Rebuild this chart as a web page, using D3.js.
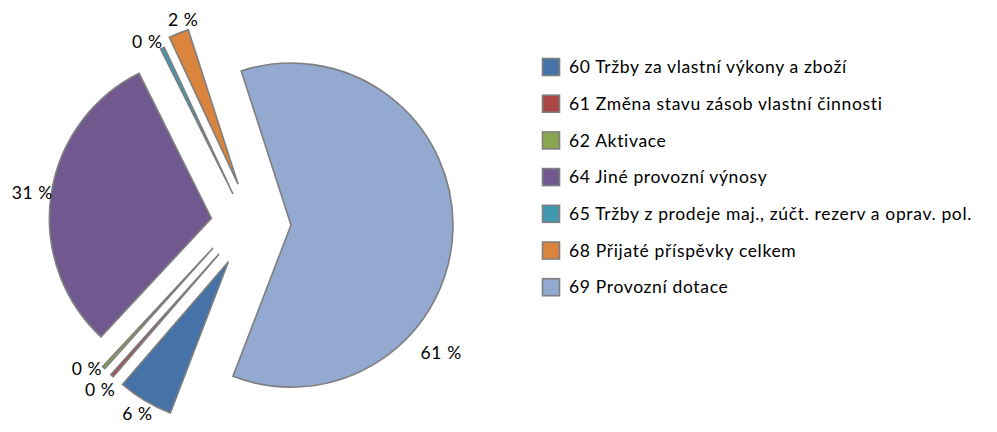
<!DOCTYPE html>
<html>
<head>
<meta charset="utf-8">
<script src="https://cdn.jsdelivr.net/npm/d3@7"></script>
<style>
    body { margin: 0; background: #fff; }
    svg { display: block; font-family: Lato, "Open Sans", sans-serif; }
</style>
</head>
<body>
<svg id="chart"></svg>
<script>
// data (share of total, %)
const codes = ["60", "61", "62", "64", "65", "68", "69"];
const names = [
    "Tržby za vlastní výkony a zboží",
    " Změna stavu zásob vlastní činnosti",
    "Aktivace",
    "Jiné provozní výnosy",
    "Tržby z prodeje maj., zúčt. rezerv a oprav. pol.",
    "Přijaté příspěvky celkem",
    "Provozní dotace"
];
const shares = [5.5, 0.3, 0.3, 30.7, 0.4, 2.0, 60.8];
const colors = ["#4572A7", "#AA4643", "#89A54E", "#71588F", "#4198AF", "#DB843D", "#93A9CF"];

const width = 997, height = 432;
const cx = 251, cy = 224;     // pie centre
const radius = 162;
const explode = 40;           // default pull-out of a slice
const firstAngle = 201;       // degrees, clockwise from 12 o'clock
const labelGap = 19;

// Excel pulled a few points out differently: [direction in degrees or null, distance]
const explodeTweak = {
    "60": [null, 44],
    "61": [226.8, 44],
    "62": [237.7, 45],
    "65": [329, 35],
    "68": [342, 42]
};

// where Excel put some labels, seen from the pie centre: [degrees, distance]
const labelTweak = {
    "61": [222.3, 224],
    "62": [228.5, 219],
    "65": [330.4, 210],
    "68": [341.6, 215],
    "69": [124.2, 230]
};

const svg = d3.select("#chart")
    .attr("width", width)
    .attr("height", height);

const rad = Math.PI / 180;

const pie = d3.pie()
    .sort(null)
    .value(d => d.share)
    .startAngle(firstAngle * rad)
    .endAngle((firstAngle + 360) * rad);

const arc = d3.arc()
    .innerRadius(0)
    .outerRadius(radius);

const rows = codes.map((c, i) => ({code: c, name: names[i], share: shares[i], color: colors[i]}));
const arcs = pie(rows);

function dir(a) {
    return [Math.sin(a), -Math.cos(a)];
}

function midAngle(d) {
    return (d.startAngle + d.endAngle) / 2;
}

function offsetOf(d) {
    const t = explodeTweak[d.data.code];
    const a = t && t[0] !== null ? t[0] * rad : midAngle(d);
    const dist = t ? t[1] : explode;
    const [dx, dy] = dir(a);
    return [dx * dist, dy * dist];
}

function labelPos(d) {
    const t = labelTweak[d.data.code];
    const a = t ? t[0] * rad : midAngle(d);
    const dist = t ? t[1] : explode + radius + labelGap;
    const [dx, dy] = dir(a);
    return [dx * dist, dy * dist];
}

const g = svg.append("g")
    .attr("transform", `translate(${cx}, ${cy})`);

g.selectAll("path.slice")
    .data(arcs)
    .enter()
    .append("path")
    .attr("class", "slice")
    .attr("d", arc)
    .attr("transform", d => `translate(${offsetOf(d)})`)
    .style("fill", d => d.data.color)
    .style("stroke", "#7F7F7F")
    .style("stroke-width", 1.6)
    .style("stroke-linejoin", "miter");

// percent labels
g.selectAll("text.pct")
    .data(arcs)
    .enter()
    .append("text")
    .attr("class", "pct")
    .attr("x", d => labelPos(d)[0])
    .attr("y", d => labelPos(d)[1])
    .attr("text-anchor", "middle")
    .attr("dy", "0.35em")
    .style("font-size", "17.5px")
    .style("letter-spacing", "0.6px")
    .style("fill", "#000")
    .text(d => `${Math.round(d.data.share)} %`);

// legend
const legendX = 542, legendY = 67, rowStep = 36.7, box = 17;

const legend = svg.append("g")
    .attr("transform", `translate(${legendX}, ${legendY})`);

const item = legend.selectAll("g.item")
    .data(rows)
    .enter()
    .append("g")
    .attr("class", "item")
    .attr("transform", (d, i) => `translate(0, ${i * rowStep})`);

item.append("rect")
    .attr("x", 0.5)
    .attr("y", -box / 2)
    .attr("width", box)
    .attr("height", box)
    .style("fill", d => d.color)
    .style("stroke", "#7F7F7F")
    .style("stroke-width", 1.6);

item.append("text")
    .attr("x", 27)
    .attr("dy", "0.35em")
    .style("font-size", "17.5px")
    .style("letter-spacing", "0.65px")
    .style("fill", "#000")
    .text(d => `${d.code} ${d.name}`);
</script>
</body>
</html>
